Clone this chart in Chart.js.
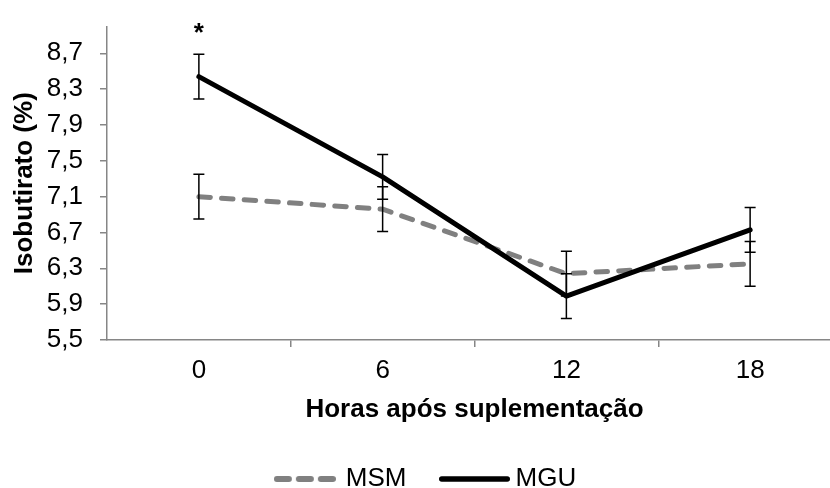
<!DOCTYPE html>
<html><head><meta charset="utf-8">
<script src="https://cdn.jsdelivr.net/npm/chart.js@4"></script>
<style>
html,body{margin:0;padding:0;background:#fff;overflow:hidden}
#wrap{width:830px;height:488px;overflow:hidden;position:relative;background:#fff}
#c{position:absolute;left:0;top:0}
</style></head><body>
<div id="wrap"><canvas id="c" width="853" height="502" style="width:853px;height:502px"></canvas></div>
<script>
const categories = ['0', '6', '12', '18'];
const msmValues = [7.10, 6.96, 6.24, 6.35];
const mguValues = [8.44, 7.32, 5.99, 6.73];
const msmErrors = [0.25, 0.25, 0.25, 0.25];
const mguErrors = [0.25, 0.25, 0.25, 0.25];
const yTickValues = [5.5, 5.9, 6.3, 6.7, 7.1, 7.5, 7.9, 8.3, 8.7];
const seriesNames = ['MSM', 'MGU'];
const significance = ['*', '', '', ''];
const xTitle = 'Horas após suplementação';
const yTitle = 'Isobutirato (%)';

const FONT = '"Liberation Sans", Arial, sans-serif';
const AXIS = '#868686';
const MSM_COLOR = '#808080';
const MGU_COLOR = '#000000';
Chart.defaults.font.family = FONT;
Chart.defaults.color = '#000';

// legend sample images (line style swatches)
function makeSwatch(len, color, width, dash) {
  const c = document.createElement('canvas');
  c.width = len; c.height = 10;
  const g = c.getContext('2d');
  g.strokeStyle = color; g.lineWidth = width; g.lineCap = 'round';
  g.setLineDash(dash);
  g.beginPath();
  g.moveTo(width / 2, 5); g.lineTo(len - width / 2, 5);
  g.stroke();
  return c;
}
const msmSwatch = makeSwatch(62, MSM_COLOR, 6, [12, 10]);
const mguSwatch = makeSwatch(71, MGU_COLOR, 5.5, []);

const errorBars = {
  id: 'errorBars',
  afterDatasetsDraw(chart) {
    const ctx = chart.ctx;
    const y = chart.scales.y;
    ctx.save();
    ctx.strokeStyle = '#000';
    ctx.lineWidth = 1.5;
    ctx.setLineDash([]);
    chart.data.datasets.forEach((ds, di) => {
      const meta = chart.getDatasetMeta(di);
      ds.errors.forEach((e, i) => {
        const px = meta.data[i].x;
        const v = ds.data[i];
        const yt = y.getPixelForValue(v + e);
        const yb = y.getPixelForValue(v - e);
        ctx.beginPath();
        ctx.moveTo(px, yt); ctx.lineTo(px, yb);
        ctx.moveTo(px - 5.5, yt); ctx.lineTo(px + 5.5, yt);
        ctx.moveTo(px - 5.5, yb); ctx.lineTo(px + 5.5, yb);
        ctx.stroke();
      });
    });
    const meta = chart.getDatasetMeta(1);
    ctx.fillStyle = '#000';
    ctx.font = 'bold 26px ' + FONT;
    ctx.textAlign = 'center';
    ctx.textBaseline = 'alphabetic';
    significance.forEach((s, i) => {
      if (!s) return;
      const top = y.getPixelForValue(mguValues[i] + mguErrors[i]);
      ctx.fillText(s, meta.data[i].x, top - 13);
    });
    ctx.restore();
  }
};

new Chart(document.getElementById('c'), {
  type: 'line',
  data: {
    labels: categories,
    datasets: [
      {
        label: seriesNames[0], data: msmValues, errors: msmErrors,
        borderColor: MSM_COLOR, backgroundColor: MSM_COLOR, borderWidth: 5,
        borderDash: [11.5, 11.2], borderCapStyle: 'round', borderJoinStyle: 'round',
        pointRadius: 0, tension: 0, fill: false, order: 1
      },
      {
        label: seriesNames[1], data: mguValues, errors: mguErrors,
        borderColor: MGU_COLOR, backgroundColor: MGU_COLOR, borderWidth: 5,
        borderCapStyle: 'round', borderJoinStyle: 'round',
        pointRadius: 0, tension: 0, fill: false, order: 0
      }
    ]
  },
  options: {
    responsive: false,
    animation: false,
    devicePixelRatio: 1,
    layout: { padding: { top: 26.4, left: 0, right: 0, bottom: 0 } },
    plugins: {
      tooltip: { enabled: false },
      legend: {
        position: 'bottom',
        labels: {
          usePointStyle: true,
          pointStyleWidth: 56,
          padding: 40,
          color: '#000',
          font: { family: FONT, size: 26 },
          generateLabels(chart) {
            const swatches = [msmSwatch, mguSwatch];
            return chart.data.datasets.map((ds, i) => ({
              text: ds.label,
              fillStyle: ds.borderColor,
              strokeStyle: ds.borderColor,
              lineWidth: 0,
              pointStyle: swatches[i],
              datasetIndex: i,
              hidden: false
            }));
          }
        }
      }
    },
    scales: {
      x: {
        type: 'category',
        offset: true,
        grid: {
          offset: true, drawOnChartArea: false, drawTicks: true, tickLength: 7,
          color: (c) => c.index === 0 ? 'rgba(0,0,0,0)' : AXIS, lineWidth: 1.5
        },
        border: { display: true, color: AXIS, width: 1.5 },
        ticks: { font: { size: 26 }, color: '#000', padding: 8.4, maxRotation: 0 },
        title: {
          display: true, text: xTitle, color: '#000',
          font: { size: 26, weight: 'bold' }, padding: { top: 7.8, bottom: 0.4 }
        },
        afterFit(s) { s.height = 86; s.paddingLeft = 0; s.paddingRight = 0; }
      },
      y: {
        min: 5.5, max: 9.0,
        grid: { drawOnChartArea: false, drawTicks: true, tickLength: 7, color: AXIS, lineWidth: 1.5 },
        border: { display: true, color: AXIS, width: 1.5 },
        afterBuildTicks(s) { s.ticks = yTickValues.map(v => ({ value: v })); },
        afterFit(s) { s.width = 107; s.paddingTop = 0; s.paddingBottom = 0; },
        ticks: {
          font: { size: 26 }, color: '#000', padding: 17,
          callback: (v) => Number(v).toFixed(1).replace('.', ',')
        },
        title: {
          display: true, text: yTitle, color: '#000',
          font: { size: 26, weight: 'bold' }, padding: { top: 9.4, bottom: 0 }
        }
      },
      y2: {
        position: 'right', display: true,
        grid: { display: false }, border: { display: false },
        ticks: { display: false },
        afterFit(s) { s.width = 11; s.paddingTop = 0; s.paddingBottom = 0; }
      }
    }
  },
  plugins: [errorBars]
});
</script>
</body></html>
